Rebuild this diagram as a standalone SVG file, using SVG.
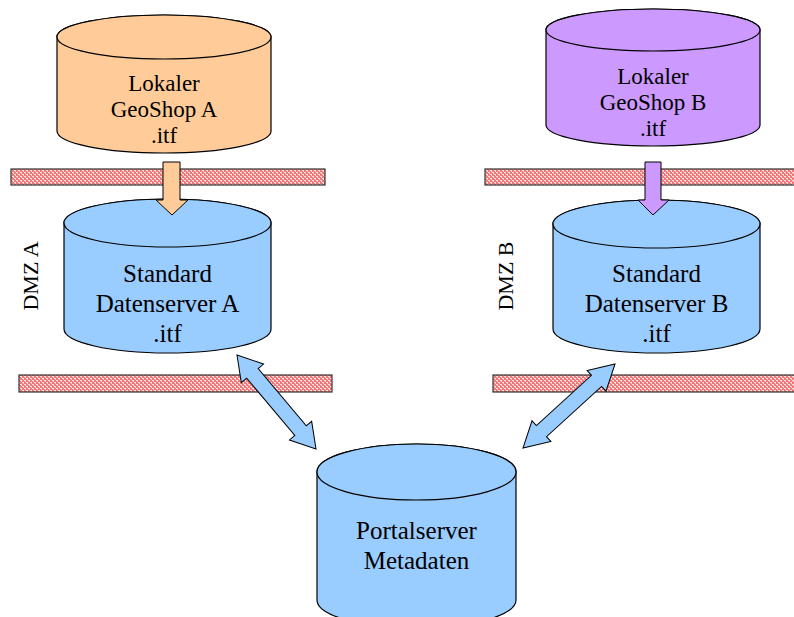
<svg xmlns="http://www.w3.org/2000/svg" width="794" height="617" viewBox="0 0 794 617">
<defs>
<pattern id="chk" width="4" height="4" patternUnits="userSpaceOnUse">
<rect width="4" height="4" fill="#f07a7a"/>
<rect x="0" y="0" width="2" height="1" fill="#ffe0e0"/>
<rect x="2" y="2" width="2" height="1" fill="#ffe0e0"/>
<rect x="1" y="1" width="1" height="1" fill="#ffd0d0"/>
<rect x="3" y="3" width="1" height="1" fill="#ffd0d0"/>
</pattern>
</defs>
<style>
.cyl{stroke:#000;stroke-width:1.2}
.orange{fill:#FFCC99}
.purple{fill:#CC99FF}
.blue{fill:#99CCFF}
.bar{fill:url(#chk);stroke:#333;stroke-width:1.2}
.arr{stroke:#000;stroke-width:1}
text{font-family:"Liberation Serif","Times New Roman",serif;fill:#000;text-anchor:middle}
.t22{font-size:23px}
.t25{font-size:25px}
.dmz{font-size:22px}
</style>
<rect width="794" height="617" fill="#fff"/>

<g id="firewalls">
<rect class="bar" x="11" y="169" width="314" height="16"/>
<rect class="bar" x="485" y="169" width="320" height="16"/>
<rect class="bar" x="19" y="375" width="313" height="17"/>
<rect class="bar" x="493" y="375" width="312" height="17"/>
</g>

<g id="geoshopA">
<path class="cyl orange" d="M57,37 L57,131 A107,22 0 0 0 271,131 L271,37 A107,22 0 0 0 57,37 Z"/>
<ellipse class="cyl orange" cx="164" cy="37" rx="107" ry="22"/>
<text class="t22" x="164" y="91">Lokaler</text>
<text class="t22" x="164" y="117">GeoShop A</text>
<text class="t22" x="164" y="143">.itf</text>
</g>

<g id="geoshopB">
<path class="cyl purple" d="M546,30 L546,125 A107,21 0 0 0 760,125 L760,30 A107,21 0 0 0 546,30 Z"/>
<ellipse class="cyl purple" cx="653" cy="30" rx="107" ry="21"/>
<text class="t22" x="653" y="84">Lokaler</text>
<text class="t22" x="653" y="110">GeoShop B</text>
<text class="t22" x="653" y="136">.itf</text>
</g>

<g id="datenserverA">
<path class="cyl blue" d="M64,223 L64,329 A103.5,24 0 0 0 271,329 L271,223 A103.5,24 0 0 0 64,223 Z"/>
<ellipse class="cyl blue" cx="167.5" cy="223" rx="103.5" ry="24"/>
<text class="t25" x="167.5" y="282">Standard</text>
<text class="t25" x="167.5" y="312">Datenserver A</text>
<text class="t25" x="167.5" y="342">.itf</text>
</g>

<g id="datenserverB">
<path class="cyl blue" d="M553,224 L553,329 A103.5,24 0 0 0 760,329 L760,224 A103.5,24 0 0 0 553,224 Z"/>
<ellipse class="cyl blue" cx="656.5" cy="224" rx="103.5" ry="24"/>
<text class="t25" x="656.5" y="282">Standard</text>
<text class="t25" x="656.5" y="312">Datenserver B</text>
<text class="t25" x="656.5" y="342">.itf</text>
</g>

<g id="portalserver">
<path class="cyl blue" d="M317,472 L317,600 A99.5,28 0 0 0 516,600 L516,472 A99.5,28 0 0 0 317,472 Z"/>
<ellipse class="cyl blue" cx="416.5" cy="472" rx="99.5" ry="28"/>
<text class="t25" x="416.5" y="539">Portalserver</text>
<text class="t25" x="416.5" y="569">Metadaten</text>
</g>

<g id="labels">
<text class="dmz" transform="translate(38,276) rotate(-90)">DMZ A</text>
<text class="dmz" transform="translate(513,276) rotate(-90)">DMZ B</text>
</g>

<g id="connectors">
<polygon class="arr orange" points="163,162 180,162 180,200 188,200 172,215 156,200 163,200"/>
<polygon class="arr purple" points="645,162 661,162 661,200 669,200 653,215 638,200 645,200"/>
<polygon class="arr blue" transform="translate(237,355) rotate(49.96)" points="0,0 24,-14.5 24,-7.5 98.8,-7.5 98.8,-14.5 122.8,0 98.8,14.5 98.8,7.5 24,7.5 24,14.5"/>
<polygon class="arr blue" transform="translate(615,364) rotate(137.6)" points="0,0 25,-14 25,-7.5 99.6,-7.5 99.6,-14 124.6,0 99.6,14 99.6,7.5 25,7.5 25,14"/>
</g>
</svg>
